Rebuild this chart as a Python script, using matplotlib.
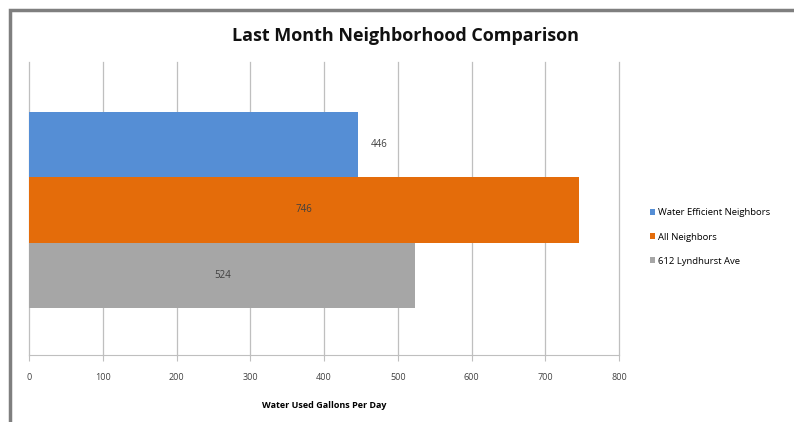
import matplotlib
matplotlib.use("Agg")
import matplotlib.pyplot as plt
from matplotlib.patches import Rectangle

# data
series = ["Water Efficient Neighbors", "All Neighbors", "612 Lyndhurst Ave"]
values = [446, 746, 524]
colors = ["#558ED5", "#E46C0A", "#A6A6A6"]
positions = [2, 1, 0]
xticks = [0, 100, 200, 300, 400, 500, 600, 700, 800]

plt.rcParams['font.family'] = ['Open Sans', 'DejaVu Sans']

fig = plt.figure(figsize=(7.94, 4.22), dpi=100)
ax = fig.add_axes([29/794, 1 - 355/422, 590/794, 293/422])

bars = []
for name, v, c, p in zip(series, values, colors, positions):
    b = ax.barh(p, v, height=1.0, color=c, label=name, zorder=2)
    bars.append(b)

# value labels: first one sits outside the bar, others centred
ax.bar_label(bars[0], labels=[str(values[0])], padding=9, fontsize=7, color="#404040")
ax.bar_label(bars[1], labels=[str(values[1])], label_type="center", fontsize=7, color="#404040")
ax.bar_label(bars[2], labels=[str(values[2])], label_type="center", fontsize=7, color="#404040")

ax.set_xlim(0, 800)
ax.set_ylim(-1.22, 3.265)
ax.set_xticks(xticks)
ax.set_xticklabels([str(t) for t in xticks], fontsize=6.5, color="#404040")
ax.set_yticks([])
ax.tick_params(axis="x", length=4, color="#BFBFBF", pad=9)
ax.grid(axis="x", color="#BFBFBF", linewidth=0.9, zorder=0)
for gl in ax.xaxis.get_gridlines():
    gl.set_clip_on(False)
for s in ["top", "right", "left"]:
    ax.spines[s].set_visible(False)
ax.spines["bottom"].set_color("#BFBFBF")

ax.set_xlabel("Water Used Gallons Per Day", fontsize=6.5, fontweight="bold", labelpad=14)

fig.text(0.5105, 1 - 36/422, "Last Month Neighborhood Comparison", ha="center", va="center",
         fontsize=13, fontweight="bold", color="#111111")

fig.legend(loc="center left", bbox_to_anchor=(641/794, 1 - 237/422), frameon=False,
           fontsize=6.8, handlelength=0.55, handleheight=0.55, handletextpad=0.35, labelspacing=1.6)

# outer chart frame
fig.patches.append(Rectangle((10/794, -0.05), 1.0, (422 - 10)/422 + 0.05, transform=fig.transFigure,
                             fill=False, edgecolor="#7F7F7F", linewidth=2.5))

fig.savefig("out.png", dpi=100)
